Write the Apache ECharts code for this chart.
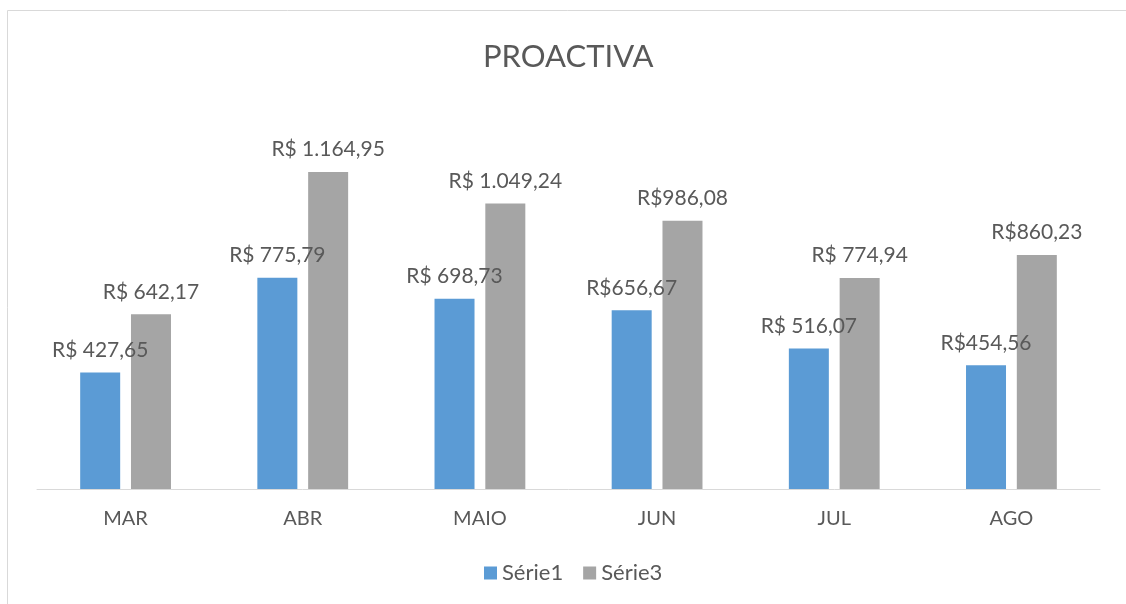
<!DOCTYPE html>
<html>
<head>
<meta charset="utf-8">
<script src="https://cdn.jsdelivr.net/npm/echarts@6/dist/echarts.min.js"></script>
<style>
  html, body { margin: 0; padding: 0; background: #fff; }
  #chart { width: 1126px; height: 604px; }
</style>
</head>
<body>
<div id="chart"></div>
<script>
// dados
const months = ['MAR', 'ABR', 'MAIO', 'JUN', 'JUL', 'AGO'];
const serie1 = [427.65, 775.79, 698.73, 656.67, 516.07, 454.56];
const serie3 = [642.17, 1164.95, 1049.24, 986.08, 774.94, 860.23];
// rótulos exatamente como aparecem (alguns sem espaço)
const serie1Labels = ['R$ 427,65', 'R$ 775,79', 'R$ 698,73', 'R$656,67', 'R$ 516,07', 'R$454,56'];
const serie3Labels = ['R$ 642,17', 'R$ 1.164,95', 'R$ 1.049,24', 'R$986,08', 'R$ 774,94', 'R$860,23'];

const textColor = '#595959';
const font = 'Lato, "Open Sans", sans-serif';

var myChart = echarts.init(document.getElementById('chart'));

function labelCfg(labels) {
    return {
        show: true,
        position: 'top',
        distance: 12,
        color: textColor,
        fontFamily: font,
        fontSize: 21,
        formatter: (p) => labels[p.dataIndex]
    };
}

var option = {
    animation: false,
    graphic: [{
        type: 'rect',
        shape: { x: 7.5, y: 10.5, width: 1140, height: 620 },
        style: { fill: 'none', stroke: '#d9d9d9', lineWidth: 1 },
        silent: true
    }],
    title: {
        text: 'PROACTIVA',
        left: 478,
        top: 36,
        textStyle: { color: textColor, fontFamily: font, fontSize: 31, fontWeight: 'normal' }
    },
    legend: {
        bottom: 15,
        left: 479,
        itemWidth: 13,
        itemHeight: 13,
        itemGap: 20,
        icon: 'rect',
        textStyle: { color: textColor, fontFamily: font, fontSize: 22 },
        data: ['Série1', 'Série3']
    },
    grid: { left: 37, right: 26, top: 108, bottom: 115 },
    xAxis: {
        type: 'category',
        data: months,
        axisLine: { lineStyle: { color: '#d9d9d9', width: 1 } },
        axisTick: { show: false },
        axisLabel: { color: textColor, fontFamily: font, fontSize: 20, margin: 20 }
    },
    yAxis: {
        type: 'value',
        min: 0,
        max: 1400,
        show: false,
        splitLine: { show: false }
    },
    series: [
        {
            name: 'Série1',
            type: 'bar',
            data: serie1,
            barWidth: 40,
            barGap: '27%',
            itemStyle: { color: '#5b9bd5' },
            label: labelCfg(serie1Labels)
        },
        {
            name: 'Série3',
            type: 'bar',
            data: serie3,
            barWidth: 40,
            itemStyle: { color: '#a5a5a5' },
            label: labelCfg(serie3Labels)
        }
    ]
};

myChart.setOption(option);
</script>
</body>
</html>
